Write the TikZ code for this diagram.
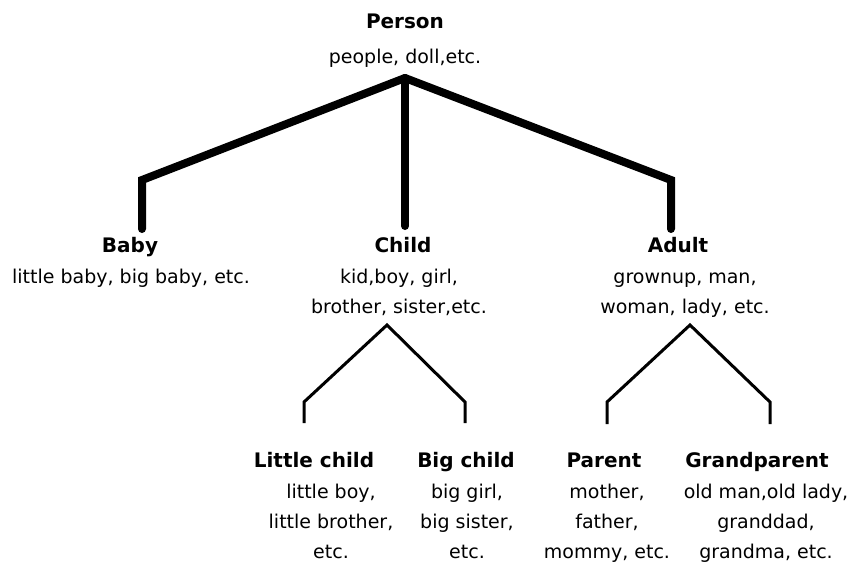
\documentclass[tikz,border=0pt]{standalone}
\usepackage{fontspec}
\setmainfont{DejaVu Sans}

\begin{document}
\begin{tikzpicture}[x=1pt,y=-1pt]
        % Define styles
        \tikzset{
            title/.style={font=\fontsize{20}{30}\selectfont\bfseries, inner sep=0pt, anchor=base},
            desc/.style={font=\fontsize{19}{30}\selectfont, align=center, inner sep=0pt, anchor=base},
            trunk/.style={line width=8pt, line cap=round, line join=miter},
            twig/.style={line width=3pt, line join=miter}
        }
        \useasboundingbox (0,0) rectangle (855,563);

        % Nodes (desc nodes sit on the baseline of their last line)
        \node[title] (person) at (405,28) {Person};
        \node[desc] (person_desc) at (405,63) {people, doll,etc.};

        \node[title] (baby) at (130,252) {Baby};
        \node[desc] (baby_desc) at (131,283) {little baby, big baby, etc.};
        \node[title] (child) at (403,252) {Child};
        \node[desc] (child_desc) at (399,313) {kid,boy, girl,\\brother, sister,etc.};
        \node[title] (adult) at (678,252) {Adult};
        \node[desc] (adult_desc) at (685,313) {grownup, man,\\woman, lady, etc.};

        \node[title] (little) at (314,467) {Little child};
        \node[desc] (little_desc) at (331,558) {little boy,\\little brother,\\etc.};
        \node[title] (big) at (466,467) {Big child};
        \node[desc] (big_desc) at (467,558) {big girl,\\big sister,\\etc.};
        \node[title] (parent) at (604,467) {Parent};
        \node[desc] (parent_desc) at (607,558) {mother,\\father,\\mommy, etc.};
        \node[title] (grand) at (757,467) {Grandparent};
        \node[desc] (grand_desc) at (766,558) {old man,old lady,\\granddad,\\grandma, etc.};

        % Branch points
        \coordinate (person_out) at (405,78);
        \coordinate (top_bend) at (0,180);
        \coordinate (baby_in) at (142,229);
        \coordinate (child_in) at (405,226);
        \coordinate (adult_in) at (671,229);
        \coordinate (child_out) at (387,325);
        \coordinate (adult_out) at (690,325);
        \coordinate (low_bend) at (0,402);
        \coordinate (little_in) at (304,423);
        \coordinate (big_in) at (465,423);
        \coordinate (parent_in) at (607,424);
        \coordinate (grand_in) at (770,424);

        % Lines
        \draw[trunk] (person_out) -- (baby_in |- top_bend) -- (baby_in);
        \draw[trunk] (person_out) -- (child_in);
        \draw[trunk] (person_out) -- (adult_in |- top_bend) -- (adult_in);
        \draw[twig] (little_in) -- (little_in |- low_bend) -- (child_out) -- (big_in |- low_bend) -- (big_in);
        \draw[twig] (parent_in) -- (parent_in |- low_bend) -- (adult_out) -- (grand_in |- low_bend) -- (grand_in);
\end{tikzpicture}
\end{document}
